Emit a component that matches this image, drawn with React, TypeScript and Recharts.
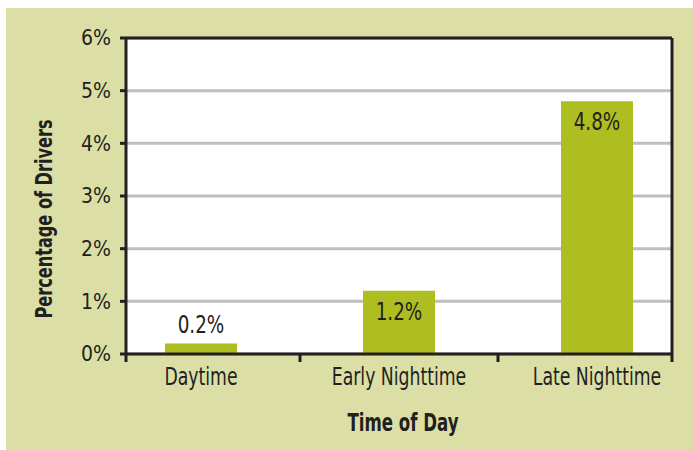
import { Bar, BarChart, CartesianGrid, LabelList, XAxis, YAxis } from "recharts";

const categories = ["Daytime", "Early Nighttime", "Late Nighttime"];
const percentages = [0.2, 1.2, 4.8];
const yTicks = [0, 1, 2, 3, 4, 5, 6];

const data = categories.map((name, i) => ({ name, value: percentages[i] }));

const FONT = "'DejaVu Sans Condensed', 'Liberation Sans Narrow', sans-serif";
const INK = "#231f20";
const BAR = "#aebd1f";
const PANEL = "#dbdfa6";

const W = 693;
const H = 450;
const PLOT_LEFT = 126;
const PLOT_RIGHT = 672;
const PLOT_TOP = 38;
const PLOT_BOTTOM = 354;
const Y_AXIS_W = 60;
const X_AXIS_H = 60;
const X_TICK_SIZE = 7;
const X_TICK_MARGIN = 8;

// narrow text: real font, squeezed horizontally to mimic the condensed face
function NarrowText({ x, y, size, squeeze, bold, rotate, children, ...rest }: any) {
  const tf = `translate(${x},${y})${rotate ? ` rotate(${rotate})` : ""} scale(${squeeze},1)`;
  return (
    <text
      transform={tf}
      x={0}
      y={0}
      textAnchor="middle"
      fill={INK}
      fontSize={size}
      fontWeight={bold ? "bold" : "normal"}
      fontFamily={FONT}
      {...rest}
    >
      {children}
    </text>
  );
}

function CategoryTick(props: any) {
  const { x, y, payload, index } = props;
  const half = payload && typeof payload.offset === "number" ? payload.offset : 99;
  const axisY = y - X_TICK_SIZE - X_TICK_MARGIN;
  const stub = (px: number, k: string) => (
    <line key={k} x1={px} x2={px} y1={axisY} y2={axisY + 8} stroke={INK} strokeWidth={3} />
  );
  return (
    <g>
      {index === 0 && stub(PLOT_LEFT, "l")}
      {index < categories.length - 1 && stub(x + half, "b")}
      {index === categories.length - 1 && stub(PLOT_RIGHT, "r")}
      <NarrowText x={x} y={y + 16} size={24} squeeze={0.8}>
        {payload.value}
      </NarrowText>
    </g>
  );
}

function BarValueLabel(props: any) {
  const { x, y, width, height, value } = props;
  const inside = height > 40;
  return (
    <NarrowText x={x + width / 2} y={inside ? y + 29 : y - 10} size={24} squeeze={0.85}>
      {`${value}%`}
    </NarrowText>
  );
}

function XTitle(props: any) {
  const vb = props.viewBox || {};
  return (
    <NarrowText x={vb.x + vb.width / 2 + 4} y={vb.y + 77} size={24} squeeze={0.77} bold>
      Time of Day
    </NarrowText>
  );
}

function YTitle(props: any) {
  const vb = props.viewBox || {};
  const cy = vb.y + vb.height / 2 + 23;
  return (
    <NarrowText x={44} y={cy} size={23} squeeze={0.78} bold rotate={-90} dominantBaseline="central">
      Percentage of Drivers
    </NarrowText>
  );
}

export default function App() {
  return (
    <div style={{ position: "absolute", left: 0, top: 0, width: W, height: H, background: "#fff" }}>
      <div style={{ position: "absolute", left: 6, top: 8, width: W - 6, height: H - 8, background: PANEL }} />
      <div style={{ position: "absolute", left: 0, top: 0 }}>
        <BarChart
          width={W}
          height={H}
          data={data}
          margin={{
            top: PLOT_TOP - 1,
            right: W - PLOT_RIGHT - 1,
            bottom: H - PLOT_BOTTOM - X_AXIS_H,
            left: PLOT_LEFT - Y_AXIS_W,
          }}
        >
          <CartesianGrid vertical={false} stroke="#bfbfbf" strokeWidth={3} fill="#fff" />
          <XAxis
            dataKey="name"
            height={X_AXIS_H}
            padding={{ left: -24, right: -24 }}
            axisLine={{ stroke: INK, strokeWidth: 3 }}
            tickLine={false}
            tickSize={X_TICK_SIZE}
            tickMargin={X_TICK_MARGIN}
            interval={0}
            tick={<CategoryTick />}
            label={<XTitle />}
          />
          <XAxis
            xAxisId="top"
            dataKey="name"
            orientation="top"
            height={1}
            tick={false}
            tickLine={false}
            axisLine={{ stroke: INK, strokeWidth: 3 }}
          />
          <YAxis
            width={Y_AXIS_W}
            domain={[0, 6]}
            ticks={yTicks}
            interval={0}
            tickFormatter={(v: number) => `${v}%`}
            axisLine={{ stroke: INK, strokeWidth: 3 }}
            tickLine={{ stroke: INK, strokeWidth: 3 }}
            tickSize={6}
            tickMargin={9}
            tick={{ fill: INK, fontSize: 21, fontFamily: FONT }}
            label={<YTitle />}
          />
          <YAxis
            yAxisId="right"
            orientation="right"
            width={1}
            domain={[0, 6]}
            tick={false}
            tickLine={false}
            axisLine={{ stroke: INK, strokeWidth: 3 }}
          />
          <Bar dataKey="value" fill={BAR} barSize={72} isAnimationActive={false}>
            <LabelList dataKey="value" content={<BarValueLabel />} />
          </Bar>
        </BarChart>
      </div>
    </div>
  );
}
